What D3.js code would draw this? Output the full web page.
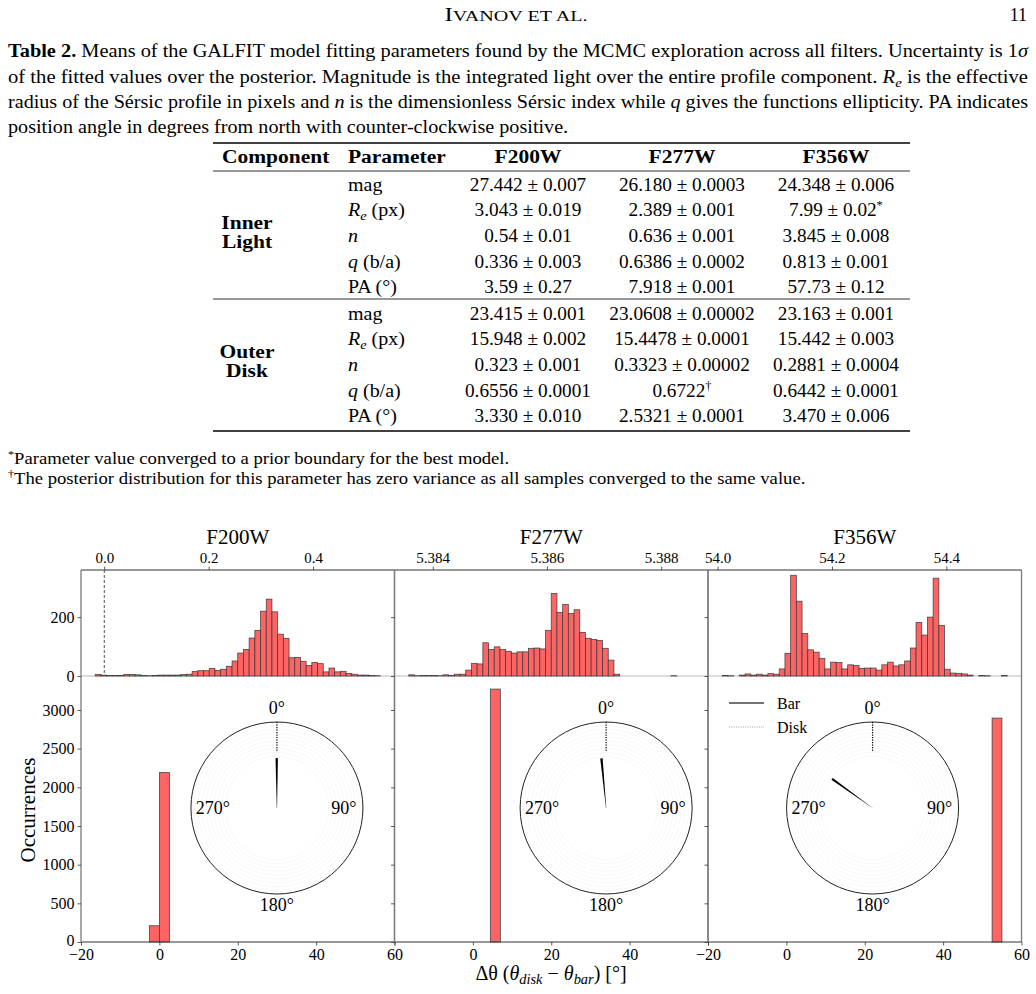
<!DOCTYPE html>
<html>
<head>
<meta charset="utf-8">
<script src="https://cdn.jsdelivr.net/npm/d3@7"></script>
<style>
  body { margin: 0; background: #fff; }
  svg { display: block; font-family: "Liberation Serif", "Times New Roman", serif; }
</style>
</head>
<body>
<div id="page"></div>
<script>
// ---------- data ----------
const filters = ["F200W", "F277W", "F356W"];
const captionLines = [
  "**Table 2.** Means of the GALFIT model fitting parameters found by the MCMC exploration across all filters. Uncertainty is 1~σ~",
  "of the fitted values over the posterior. Magnitude is the integrated light over the entire profile component. ~R~_{e} is the effective",
  "radius of the Sérsic profile in pixels and ~n~ is the dimensionless Sérsic index while ~q~ gives the functions ellipticity. PA indicates",
  "position angle in degrees from north with counter-clockwise positive."
];
const tableColumns = ["Component", "Parameter", "F200W", "F277W", "F356W"];
const components = [["Inner", "Light"], ["Outer", "Disk"]];
const parameters = ["mag", "~R~_{e} (px)", "~n~", "~q~ (b/a)", "PA (°)"];
const innerLight = [
  ["27.442 ± 0.007", "26.180 ± 0.0003", "24.348 ± 0.006"],
  ["3.043 ± 0.019", "2.389 ± 0.001", "7.99 ± 0.02^{*}"],
  ["0.54 ± 0.01", "0.636 ± 0.001", "3.845 ± 0.008"],
  ["0.336 ± 0.003", "0.6386 ± 0.0002", "0.813 ± 0.001"],
  ["3.59 ± 0.27", "7.918 ± 0.001", "57.73 ± 0.12"]
];
const outerDisk = [
  ["23.415 ± 0.001", "23.0608 ± 0.00002", "23.163 ± 0.001"],
  ["15.948 ± 0.002", "15.4478 ± 0.0001", "15.442 ± 0.003"],
  ["0.323 ± 0.001", "0.3323 ± 0.00002", "0.2881 ± 0.0004"],
  ["0.6556 ± 0.0001", "0.6722^{†}", "0.6442 ± 0.0001"],
  ["3.330 ± 0.010", "2.5321 ± 0.0001", "3.470 ± 0.006"]
];
const footnotes = [
  "^{*}Parameter value converged to a prior boundary for the best model.",
  "^{†}The posterior distribution for this parameter has zero variance as all samples converged to the same value."
];

// top histograms: bin range and counts (50 bins each)
const topBinStart = [-0.0173, 5.38358, 54.0082];
const topBinEnd = [0.5288, 5.38857, 54.5065];
const counts200 = [5, 3, 2, 2, 2, 5, 5, 4, 2, 1, 2, 3, 3, 3, 3, 5, 6, 15, 18, 18,
  26, 19, 23, 33, 51, 78, 90, 129, 155, 220, 261, 218, 142, 128, 62, 63, 50, 36, 46, 42,
  14, 27, 14, 16, 9, 6, 3, 3, 2, 1];
const counts277 = [4, 1, 2, 2, 2, 1, 4, 2, 6, 6, 20, 43, 41, 113, 90, 99, 90, 84, 78, 82,
  82, 94, 95, 92, 155, 280, 216, 243, 212, 225, 148, 128, 124, 121, 94, 54, 6, 0, 0, 0,
  0, 0, 0, 0, 0, 0, 1, 0, 0, 0];
const counts356 = [2, 1, 0, 3, 7, 3, 6, 3, 8, 6, 24, 77, 342, 254, 144, 89, 81, 60, 24, 47,
  46, 24, 38, 36, 26, 27, 27, 20, 38, 47, 34, 38, 51, 95, 182, 139, 200, 332, 172, 23,
  10, 9, 7, 3, 0, 2, 1, 0, 0, 2];
const topCounts = [counts200, counts277, counts356];
const topTicks = [[0.0, 0.2, 0.4], [5.384, 5.386, 5.388], [54.0, 54.2, 54.4]];
const topTickFormat = [".1f", ".3f", ".1f"];

// bottom histograms of delta theta
const deltaEdges = [[-2.55, 0, 2.55], [4.46, 7.0], [52.5, 55.0]];
const deltaCounts = [[210, 2190], [3270], [2895]];
const deltaTicks = [-20, 0, 20, 40, 60];
const occTicks = [0, 500, 1000, 1500, 2000, 2500, 3000];
const topYTicks = [0, 200];
const polarLabels = ["0°", "90°", "180°", "270°"];

// ---------- layout ----------
const W = 1036, H = 994;
const FS = 18.5;
const panelLeft = 81, panelW = 313.5, figTop = 570, figBottom = 942, topBase = 676;
const insetX = [30, 34, 22];   // inset centre, in delta-theta units
const insetCy = 808, R = 86;
const RED = "#ff6464";

const svg = d3.select("#page").append("svg")
  .attr("width", W).attr("height", H).attr("viewBox", [0, 0, W, H]);
svg.append("rect").attr("width", W).attr("height", H).attr("fill", "#fff");

// little markup: **bold**, ~italic~, _{sub}, ^{sup}
function rich(text, str, fs) {
  const re = /(\*\*[^*]+\*\*|~[^~]+~|_\{[^}]+\}|\^\{[^}]+\})/g;
  let shift = 0;
  str.split(re).filter(s => s).forEach(s => {
    const t = text.append("tspan");
    let dy = -shift;
    shift = 0;
    if (s.startsWith("**")) t.attr("font-weight", "bold").text(s.slice(2, -2));
    else if (s.startsWith("~")) t.attr("font-style", "italic").text(s.slice(1, -1));
    else if (s.startsWith("_{")) { shift = fs * 0.22; t.attr("font-size", fs * 0.72).attr("font-style", "italic").text(s.slice(2, -1)); }
    else if (s.startsWith("^{")) { shift = -fs * 0.38; t.attr("font-size", fs * 0.65).text(s.slice(2, -1)); }
    else t.text(s);
    dy += shift;
    if (dy) t.attr("dy", dy);
  });
  return text;
}
// the page face (Computer Modern) runs wider than Times: stretch a little
function widen(t, k) {
  const L = t.node().getComputedTextLength();
  t.attr("textLength", L * k).attr("lengthAdjust", "spacingAndGlyphs");
  return t;
}

// ---------- page header ----------
const hdr = svg.append("text").attr("x", 516).attr("y", 21).attr("text-anchor", "middle")
  .attr("font-size", 18);
hdr.append("tspan").text("I");
hdr.append("tspan").attr("font-size", 14.5).text("VANOV ET AL.");
hdr.attr("textLength", 143).attr("lengthAdjust", "spacingAndGlyphs");
svg.append("text").attr("x", 1027).attr("y", 21).attr("text-anchor", "end")
  .attr("font-size", 18).text("11");

// ---------- caption ----------
const capBase = [57, 82.5, 108, 133];
captionLines.forEach((line, i) => {
  const t = svg.append("text").attr("x", 8).attr("y", capBase[i]).attr("font-size", FS);
  rich(t, line, FS);
  if (i < captionLines.length - 1) t.attr("textLength", 1020).attr("lengthAdjust", "spacingAndGlyphs");
  else widen(t, 1.09);
});

// ---------- table ----------
const tbl = svg.append("g");
const ruleX = [213, 910];
[[143, 1.3], [171, 0.8], [299, 0.8], [431, 1.3]].forEach(([y, w]) =>
  tbl.append("line").attr("x1", ruleX[0]).attr("x2", ruleX[1]).attr("y1", y).attr("y2", y)
    .attr("stroke", "#000").attr("stroke-width", w));
const colX = [222, 348, 528, 682, 836];
tableColumns.forEach((c, j) => {
  const t = tbl.append("text").attr("x", colX[j]).attr("y", 163).attr("font-size", FS)
    .attr("font-weight", "bold")
    .attr("text-anchor", j >= 2 ? "middle" : "start").text(c);
  widen(t, 1.16);
});
const blockTop = [190.5, 319.5], rowH = 25.7;
[innerLight, outerDisk].forEach((rows, b) => {
  components[b].forEach((w, k) => {
    const t = tbl.append("text").attr("x", 247).attr("y", blockTop[b] + 38.5 + k * 19)
      .attr("text-anchor", "middle").attr("font-size", FS).attr("font-weight", "bold").text(w);
    widen(t, 1.16);
  });
  rows.forEach((vals, r) => {
    const y = blockTop[b] + r * rowH;
    widen(rich(tbl.append("text").attr("x", colX[1]).attr("y", y).attr("font-size", FS), parameters[r], FS), 1.08);
    vals.forEach((v, j) => {
      widen(rich(tbl.append("text").attr("x", colX[j + 2]).attr("y", y).attr("font-size", FS)
        .attr("text-anchor", "middle"), v, FS), 1.04);
    });
  });
});
footnotes.forEach((f, i) => {
  widen(rich(svg.append("text").attr("x", 8).attr("y", 464 + i * 19.5).attr("font-size", 16.5), f, 16.5), 1.13);
});

// ---------- figure ----------
const yTop = d3.scaleLinear().domain([0, 360]).range([topBase, figTop]);
const yBot = d3.scaleLinear().domain([0, 4810]).range([figBottom, figTop]);

function styleAxis(a, fs) {
  a.select(".domain").remove();
  a.selectAll(".tick line").attr("stroke", "#333").attr("stroke-width", 0.8);
  a.selectAll(".tick text").attr("font-family", "Liberation Serif, serif")
    .attr("font-size", fs).attr("fill", "#000");
}

filters.forEach((f, i) => {
  const x0 = panelLeft + i * panelW, x1 = x0 + panelW;
  const g = svg.append("g");
  const n = topCounts[i].length;
  const span = topBinEnd[i] - topBinStart[i];
  const bw = span / n;
  const xT = d3.scaleLinear().domain([topBinStart[i] - 0.05 * span, topBinEnd[i] + 0.05 * span]).range([x0, x1]);
  const xB = d3.scaleLinear().domain([-20, 60]).range([x0, x1]);

  // bottom histogram
  g.append("g").selectAll("rect").data(deltaCounts[i]).join("rect")
    .attr("x", (d, k) => xB(deltaEdges[i][k]))
    .attr("width", (d, k) => xB(deltaEdges[i][k + 1]) - xB(deltaEdges[i][k]))
    .attr("y", d => yBot(d)).attr("height", d => yBot(0) - yBot(d))
    .attr("fill", RED).attr("stroke", "#444").attr("stroke-width", 0.8);

  // top histogram
  g.append("line").attr("x1", x0).attr("x2", x1).attr("y1", topBase).attr("y2", topBase)
    .attr("stroke", "#b0b0b0").attr("stroke-width", 0.9);
  g.append("g").selectAll("rect").data(topCounts[i].map((c, k) => ({ c, a: topBinStart[i] + k * bw })).filter(d => d.c > 0))
    .join("rect")
    .attr("x", d => xT(d.a)).attr("width", d => xT(d.a + bw) - xT(d.a))
    .attr("y", d => yTop(d.c)).attr("height", d => topBase - yTop(d.c))
    .attr("fill", RED).attr("stroke", "#333").attr("stroke-width", 0.8).attr("stroke-opacity", 0.85);
  if (xT.domain()[0] < 0 && xT.domain()[1] > 0) {
    g.append("line").attr("x1", xT(0)).attr("x2", xT(0)).attr("y1", figTop).attr("y2", topBase)
      .attr("stroke", "#555").attr("stroke-width", 1).attr("stroke-dasharray", "3,2");
  }

  // polar inset
  const cx = xB(insetX[i]);
  const pg = g.append("g").attr("transform", `translate(${cx},${insetCy})`);
  pg.append("circle").attr("r", R).attr("fill", "#fff");
  d3.range(9).forEach(k => pg.append("circle").attr("r", R * (0.6 + k * 0.045))
    .attr("fill", "none").attr("stroke", "#e2e2e2").attr("stroke-width", 0.6).attr("stroke-dasharray", "1,1.5"));
  pg.append("circle").attr("r", R).attr("fill", "none").attr("stroke", "#222").attr("stroke-width", 1);
  pg.append("line").attr("x1", 0).attr("x2", 0).attr("y1", -R).attr("y2", -R * 0.66)
    .attr("stroke", "#000").attr("stroke-width", 1.2).attr("stroke-dasharray", "1.2,1.3");
  const th = (parseFloat(outerDisk[4][i]) - parseFloat(innerLight[4][i])) * Math.PI / 180;
  const tip = [R * 0.58 * Math.sin(th), -R * 0.58 * Math.cos(th)];
  const pp = [Math.cos(th), Math.sin(th)];
  pg.append("polygon").attr("fill", "#000").attr("points", [
    [pp[0] * 0.15, pp[1] * 0.15], [tip[0] + pp[0] * 1.2, tip[1] + pp[1] * 1.2],
    [tip[0] - pp[0] * 1.2, tip[1] - pp[1] * 1.2], [-pp[0] * 0.15, -pp[1] * 0.15]
  ].map(p => p.join(",")).join(" "));
  const lblPos = [[0, -94], [67, 6], [0, 103], [-64, 6]];
  polarLabels.forEach((l, k) => pg.append("text").attr("x", lblPos[k][0]).attr("y", lblPos[k][1])
    .attr("text-anchor", "middle").attr("font-size", 18).text(l));

  // spines
  g.append("line").attr("x1", x0).attr("x2", x1).attr("y1", figTop).attr("y2", figTop).attr("stroke", "#333").attr("stroke-width", 1);
  g.append("line").attr("x1", x0).attr("x2", x1).attr("y1", figBottom).attr("y2", figBottom).attr("stroke", "#333").attr("stroke-width", 1);
  [x0, x1].forEach(x => g.append("line").attr("x1", x).attr("x2", x).attr("y1", figTop).attr("y2", figBottom)
    .attr("stroke", "#7a7a7a").attr("stroke-width", 1.3));

  // axes
  const aTop = g.append("g").attr("transform", `translate(0,${figTop})`)
    .call(d3.axisTop(xT).tickValues(topTicks[i]).tickFormat(d3.format(topTickFormat[i])).tickSize(3.5).tickPadding(3.5));
  styleAxis(aTop, 15);
  const aBot = g.append("g").attr("transform", `translate(0,${figBottom})`)
    .call(d3.axisBottom(xB).tickValues(deltaTicks).tickSize(3.5).tickPadding(3.5));
  styleAxis(aBot, 16);
  if (i === 1) aBot.selectAll(".tick text").filter(d => d === -20 || d === 60).remove();
  const aOcc = g.append("g").attr("transform", `translate(${x0},0)`)
    .call(d3.axisLeft(yBot).tickValues(occTicks).tickFormat(d3.format("d")).tickSize(3.5).tickPadding(3));
  styleAxis(aOcc, 16);
  aOcc.selectAll(".tick text").filter(d => d === 0).attr("dy", "0.2em");
  const aTy = g.append("g").attr("transform", `translate(${x0},0)`)
    .call(d3.axisLeft(yTop).tickValues(topYTicks).tickFormat(d3.format("d")).tickSize(3.5).tickPadding(3));
  styleAxis(aTy, 16);
  if (i > 0) { aOcc.selectAll(".tick text").remove(); aTy.selectAll(".tick text").remove(); }

  // title
  g.append("text").attr("x", (x0 + x1) / 2).attr("y", 544).attr("text-anchor", "middle")
    .attr("font-size", 21).text(f);

  // legend (last panel)
  if (i === filters.length - 1) {
    const lg = g.append("g");
    lg.append("line").attr("x1", x0 + 21).attr("x2", x0 + 56).attr("y1", 703).attr("y2", 703)
      .attr("stroke", "#444").attr("stroke-width", 1.5);
    lg.append("line").attr("x1", x0 + 21).attr("x2", x0 + 56).attr("y1", 727).attr("y2", 727)
      .attr("stroke", "#999").attr("stroke-width", 1).attr("stroke-dasharray", "1,1.3");
    lg.append("text").attr("x", x0 + 69).attr("y", 709).attr("font-size", 16).text("Bar");
    lg.append("text").attr("x", x0 + 69).attr("y", 733).attr("font-size", 16).text("Disk");
  }
});

// axis titles
svg.append("text").attr("transform", `translate(35,810) rotate(-90)`).attr("text-anchor", "middle")
  .attr("font-size", 21).text("Occurrences");
rich(svg.append("text").attr("x", 551).attr("y", 980).attr("text-anchor", "middle").attr("font-size", 20),
  "Δθ (~θ~_{disk} − ~θ~_{bar}) [°]", 20);
</script>
</body>
</html>
